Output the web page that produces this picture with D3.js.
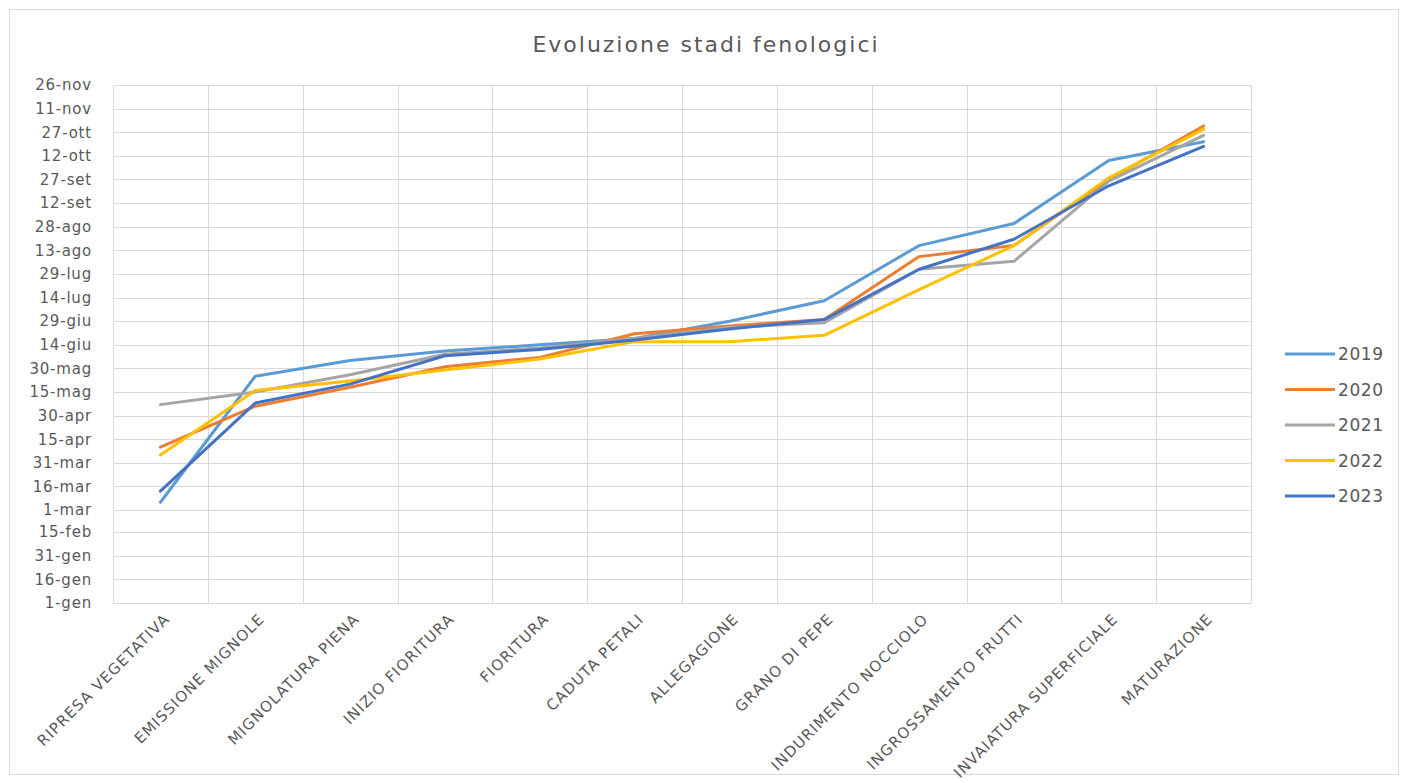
<!DOCTYPE html>
<html>
<head>
<meta charset="utf-8">
<script src="https://cdn.jsdelivr.net/npm/d3@7/dist/d3.min.js"></script>
<style>
  html, body { margin: 0; padding: 0; background: #fff; }
  svg { display: block; }
  text { font-family: "DejaVu Sans", "Noto Sans", sans-serif; fill: #595959; }
</style>
</head>
<body>
<svg id="chart" width="1408" height="783"></svg>
<script>
// Phenological stages (x categories)
const stages = [
  "RIPRESA VEGETATIVA", "EMISSIONE MIGNOLE", "MIGNOLATURA PIENA", "INIZIO FIORITURA",
  "FIORITURA", "CADUTA PETALI", "ALLEGAGIONE", "GRANO DI PEPE",
  "INDURIMENTO NOCCIOLO", "INGROSSAMENTO FRUTTI", "INVAIATURA SUPERFICIALE", "MATURAZIONE"
];

// Day of year (0 = 1 January) at which each stage was reached
const years = ["2019", "2020", "2021", "2022", "2023"];
const y2019 = [64, 144, 154, 160, 164, 168, 179, 192, 227, 241, 281, 293];
const y2020 = [99, 125, 137, 150, 156, 171, 176, 180, 220, 227, 269, 303];
const y2021 = [126, 134, 145, 158, 162, 168, 175, 178, 212, 217, 268, 297];
const y2022 = [94, 135, 141, 148, 155, 166, 166, 170, 199, 227, 270, 301];
const y2023 = [71, 127, 139, 157, 161, 167, 174, 180, 212, 231, 265, 290];
const seriesValues = [y2019, y2020, y2021, y2022, y2023];
const colors = ["#5B9BD5", "#ED7D31", "#A5A5A5", "#FFC000", "#4472C4"];

// Y axis ticks (every 15 days)
const tickDays = [0, 15, 30, 45, 59, 74, 89, 104, 119, 134, 149, 164, 179, 194, 209, 224, 239, 254, 269, 284, 299, 314, 329];
const tickLabels = ["1-gen", "16-gen", "31-gen", "15-feb", "1-mar", "16-mar", "31-mar", "15-apr", "30-apr",
  "15-mag", "30-mag", "14-giu", "29-giu", "14-lug", "29-lug", "13-ago", "28-ago", "12-set", "27-set",
  "12-ott", "27-ott", "11-nov", "26-nov"];

const svg = d3.select("#chart");

// chart frame
svg.append("rect")
  .attr("x", 9.5).attr("y", 9.5).attr("width", 1389).attr("height", 765)
  .attr("fill", "#fff").attr("stroke", "#d9d9d9").attr("stroke-width", 1);

const plot = { left: 113, right: 1251, top: 85, bottom: 603 };

const x = d3.scaleBand().domain(stages).range([plot.left, plot.right]).padding(0);
const y = d3.scaleLinear().domain([0, 329]).range([plot.bottom, plot.top]);

// title
svg.append("text")
  .attr("x", 706).attr("y", 52)
  .attr("text-anchor", "middle")
  .style("font-size", "22px")
  .style("letter-spacing", "2px")
  .text("Evoluzione stadi fenologici");

// horizontal gridlines
svg.append("g").selectAll("line")
  .data(tickDays)
  .join("line")
  .attr("x1", plot.left).attr("x2", plot.right)
  .attr("y1", d => Math.round(y(d)) + 0.5).attr("y2", d => Math.round(y(d)) + 0.5)
  .attr("stroke", "#d9d9d9").attr("stroke-width", 1);

// vertical gridlines at category boundaries
const bounds = stages.map(s => x(s)).concat([plot.right]);
svg.append("g").selectAll("line")
  .data(bounds)
  .join("line")
  .attr("x1", d => Math.round(d) + 0.5).attr("x2", d => Math.round(d) + 0.5)
  .attr("y1", plot.top).attr("y2", plot.bottom)
  .attr("stroke", "#d9d9d9").attr("stroke-width", 1);

// y axis labels
const yAxis = d3.axisLeft(y)
  .tickValues(tickDays)
  .tickFormat((d, i) => tickLabels[i])
  .tickSize(0)
  .tickPadding(21);
const gy = svg.append("g").attr("transform", `translate(${plot.left},0)`).call(yAxis);
gy.select(".domain").remove();
gy.selectAll("text")
  .style("font-size", "15px")
  .style("letter-spacing", "0.8px")
  .style("fill", "#595959")
  .style("font-family", "\"DejaVu Sans\", sans-serif");

// x axis labels, rotated
const xAxis = d3.axisBottom(x).tickSize(0).tickPadding(0);
const gx = svg.append("g").attr("transform", `translate(0,${plot.bottom})`).call(xAxis);
gx.select(".domain").remove();
gx.selectAll("text")
  .attr("text-anchor", "end")
  .attr("dy", "0")
  .attr("transform", "translate(10,17) rotate(-45)")
  .style("font-size", "15px")
  .style("letter-spacing", "1.1px")
  .style("fill", "#595959")
  .style("font-family", "\"DejaVu Sans\", sans-serif");

// series lines
const line = d3.line()
  .x((d, i) => x(stages[i]) + x.bandwidth() / 2)
  .y(d => y(d));

svg.append("g").selectAll("path")
  .data(seriesValues)
  .join("path")
  .attr("d", d => line(d))
  .attr("fill", "none")
  .attr("stroke", (d, i) => colors[i])
  .attr("stroke-width", 3)
  .attr("stroke-linejoin", "round")
  .attr("stroke-linecap", "round");

// legend
const legend = svg.append("g").selectAll("g")
  .data(years)
  .join("g")
  .attr("transform", (d, i) => `translate(1285,${354 + i * 35.5})`);
legend.append("line")
  .attr("x1", 0).attr("x2", 50).attr("y1", 0).attr("y2", 0)
  .attr("stroke", (d, i) => colors[i]).attr("stroke-width", 3);
legend.append("text")
  .attr("x", 53).attr("y", 6)
  .style("font-size", "17px")
  .style("letter-spacing", "0.6px")
  .text(d => d);
</script>
</body>
</html>
